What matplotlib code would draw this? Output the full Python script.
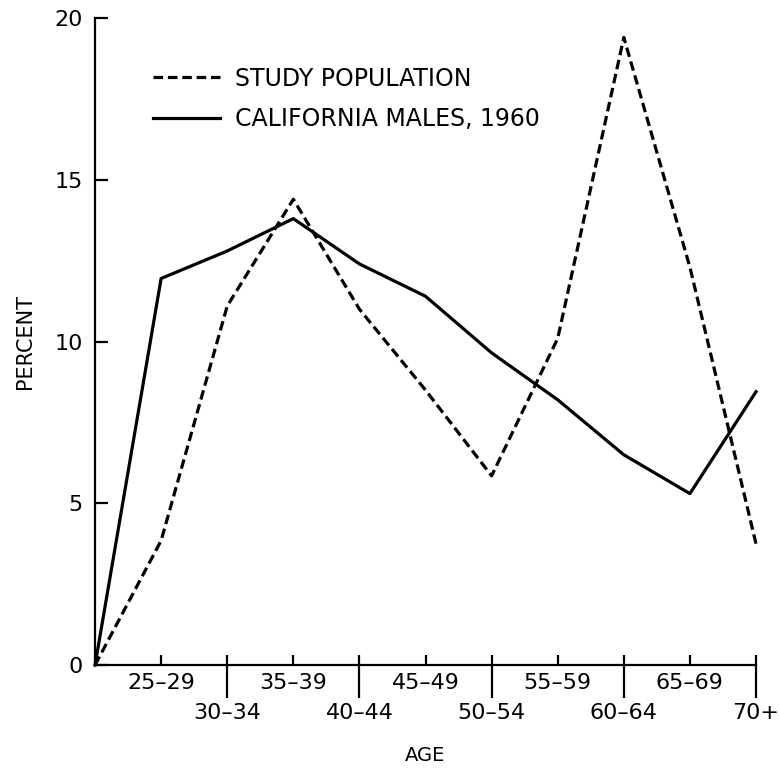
import matplotlib
matplotlib.use("Agg")
import matplotlib.pyplot as plt

# age groups, in order along the x axis (position 0 is the origin)
age_groups = ["25–29", "30–34", "35–39", "40–44", "45–49",
              "50–54", "55–59", "60–64", "65–69", "70+"]

# percent in each age group (first value is the origin)
study_pct = [0, 3.85, 11.1, 14.4, 11.0, 8.5, 5.85, 10.1, 19.4, 12.3, 3.75]
calif_pct = [0, 11.95, 12.8, 13.8, 12.4, 11.4, 9.65, 8.2, 6.5, 5.3, 8.45]

y_ticks = [0, 5, 10, 15, 20]

plt.rcParams["font.family"] = ["DejaVu Sans"]

fig = plt.figure(figsize=(7.79, 7.68), dpi=100)
ax = fig.add_axes([0.122, 0.134, 0.8485, 0.8425])

xs = list(range(len(study_pct)))
ax.plot(xs, study_pct, color="black", lw=2.3, linestyle=(0, (3.0, 1.5)),
        label="STUDY POPULATION", clip_on=False)
ax.plot(xs, calif_pct, color="black", lw=2.3,
        label="CALIFORNIA MALES, 1960", clip_on=False)

ax.set_xlim(0, len(age_groups))
ax.set_ylim(0, 20)

for side in ["top", "right"]:
    ax.spines[side].set_visible(False)
for side in ["left", "bottom"]:
    ax.spines[side].set_linewidth(1.6)

# y axis
ax.set_yticks(y_ticks)
ax.tick_params(axis="y", direction="in", length=9, width=1.6,
               labelsize=16, pad=9)

# x axis: long ticks with the lower-row labels, short ticks with upper-row labels
pos = list(range(1, len(age_groups) + 1))
major_pos = pos[1::2]
major_lab = age_groups[1::2]
minor_lab = [lab if i % 2 == 0 else "" for i, lab in enumerate(age_groups)]

ax.xaxis.remove_overlapping_locs = False
ax.set_xticks(major_pos, major_lab)
ax.set_xticks(pos, minor_lab, minor=True)
ax.tick_params(axis="x", which="major", direction="out", length=24,
               width=1.6, labelsize=16, pad=3)
ax.tick_params(axis="x", which="minor", direction="in", length=7,
               width=1.6, labelsize=16, pad=6)

ax.set_xlabel("AGE", fontsize=14, labelpad=17)
ax.set_ylabel("PERCENT", fontsize=15, labelpad=14)

ax.legend(loc="upper left", bbox_to_anchor=(0.088, 0.925), frameon=False,
          fontsize=17, handlelength=2.85, handletextpad=0.63,
          labelspacing=0.7, borderpad=0, borderaxespad=0)

fig.savefig("out.png", dpi=100)
